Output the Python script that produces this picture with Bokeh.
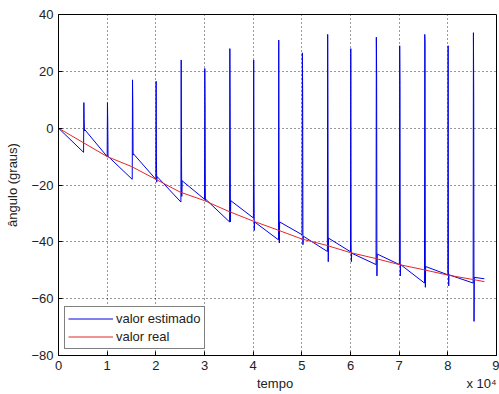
from bokeh.plotting import figure
from bokeh.models import Range1d, FixedTicker, Legend, LegendItem
from bokeh.embed import file_html
from bokeh.resources import INLINE

# ---- data ----
# valor real
real_t = [0, 5000, 10000, 15000, 20000, 25000, 30000, 35000, 40000, 45000,
          50000, 55000, 60000, 65000, 70000, 75000, 80000, 85000, 87500]
real_v = [0, -5, -10, -13.5, -18, -22.5, -25.5, -29.3, -32.7, -35.8,
          -39, -41.2, -43.8, -45.8, -48, -49.8, -51.7, -53.2, -54]

# valor estimado: linear segments between resets, with a spike at each reset
spike_t = [5150, 10000, 15150, 20000, 25150, 30000, 35150, 40050, 45200,
           50050, 55250, 60000, 65250, 70050, 75200, 80000, 85200]
spike_peak = [9, 9, 17, 16.5, 24, 21, 28, 24, 31, 26.5, 33, 28, 32, 29, 33, 29, 33.6]
spike_mid = [3, 2, 8, -10.5, -9, 9, 7, -16, -20, 13, 3.5, -40, 19, 15, 30, -50, 11]
spike_dip = [-1, -10, -9.5, -19, -24, -25.5, -33, -36, -40.4, -41, -47, -47,
             -52, -52, -56, -55.5, -68]
seg_start = [0, -0.5, -10, -9, -17, -18.5, -25, -25.5, -33, -33, -38, -38.7,
             -44, -44.3, -48, -48.7, -51.6, -52.5]
seg_end = [-8.5, -10, -18, -18, -26, -25, -33, -31.6, -39.3, -37.5, -43.4,
           -43.5, -48, -48, -54.5, -51.6, -54.5, -53]
t_last = 87500

x_ticks = [0, 10000, 20000, 30000, 40000, 50000, 60000, 70000, 80000, 90000]
x_tick_labels = ["0", "1", "2", "3", "4", "5", "6", "7", "8", "9"]
y_ticks = [-80, -60, -40, -20, 0, 20, 40]
x_label = "tempo"
x_exponent = "x 10\u2074"

# ---- build estimated polyline ----
est_t = [0]
est_v = [seg_start[0]]
for i, T in enumerate(spike_t):
    est_t += [T, T + 60, T + 120, T + 180, T + 240]
    est_v += [seg_end[i], spike_peak[i], spike_mid[i], spike_dip[i], seg_start[i + 1]]
est_t.append(t_last)
est_v.append(seg_end[-1])

FONT = "Liberation Sans"
NB = "\u00a0"

p = figure(width=499, height=394, output_backend="svg", toolbar_location=None,
           x_range=Range1d(0, 90000), y_range=Range1d(-80, 40),
           min_border_left=58, min_border_right=3, min_border_top=14,
           min_border_bottom=39)
p.background_fill_color = "white"
p.border_fill_color = "white"
p.outline_line_color = "black"
p.outline_line_width = 1

r_est = p.line(est_t, est_v, line_color="#0000e6", line_width=1)
r_real = p.line(real_t, real_v, line_color="#e02828", line_width=1)

p.xaxis.ticker = FixedTicker(ticks=x_ticks)
p.xaxis.major_label_overrides = {t: l for t, l in zip(x_ticks, x_tick_labels)}
p.yaxis.ticker = FixedTicker(ticks=y_ticks)

for ax in p.axis:
    ax.axis_line_color = "black"
    ax.major_tick_in = 4
    ax.major_tick_out = 0
    ax.minor_tick_line_color = None
    ax.major_tick_line_color = "black"
    ax.major_label_text_font = FONT
    ax.major_label_text_font_size = "13px"
    ax.major_label_text_color = "#222222"
    ax.axis_label_text_font = FONT
    ax.axis_label_text_font_size = "13px"
    ax.axis_label_text_font_style = "normal"
    ax.axis_label_text_color = "#222222"
    ax.major_label_standoff = 5

# "tempo" centred under the axis, with the exponent marker at the right end
p.xaxis.axis_label = NB * 55 + x_label + NB * 48 + x_exponent
p.xaxis.axis_label_standoff = 3
p.yaxis.axis_label = "ângulo (graus)"
p.yaxis.axis_label_standoff = 8

for g in (p.xgrid, p.ygrid):
    g.grid_line_color = "black"
    g.grid_line_dash = "1 3"
    g.grid_line_alpha = 0.8

legend = Legend(items=[LegendItem(label="valor estimado", renderers=[r_est]),
                       LegendItem(label="valor real", renderers=[r_real])],
                location="bottom_left")
legend.margin = 6
legend.padding = 3
legend.spacing = 1
legend.label_height = 17
legend.glyph_height = 17
legend.glyph_width = 45
legend.label_standoff = 3
legend.label_text_font = FONT
legend.label_text_font_size = "13px"
legend.label_text_color = "#222222"
legend.border_line_color = "black"
legend.border_line_width = 1
legend.background_fill_color = "white"
legend.background_fill_alpha = 1
p.add_layout(legend, "center")

open("out.html", "w").write(file_html(p, INLINE))
